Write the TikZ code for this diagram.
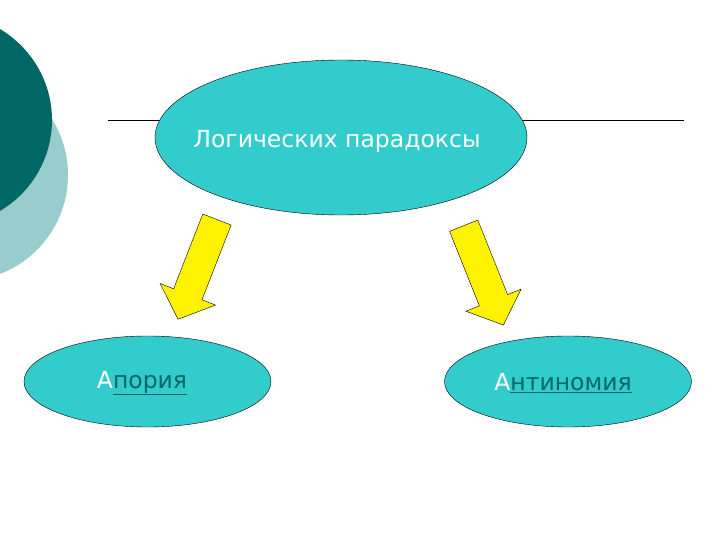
\documentclass[tikz,border=0pt]{standalone}
\usepackage{fontspec}
\setmainfont{DejaVu Sans}
\usetikzlibrary{shapes.geometric, shapes.arrows}
\definecolor{tealfill}{RGB}{51,204,204}
\definecolor{darkteal}{RGB}{0,102,102}
\definecolor{lightteal}{RGB}{153,204,204}
\tikzset{%
    ell/.style={ellipse, draw=black, fill=tealfill, inner sep=0pt},
    yarrow/.style={single arrow, draw=black, fill=yellow, inner sep=15pt,
        minimum height=107pt, single arrow head extend=14.5pt,
        single arrow tip angle=96},
    lbl/.style={font=\fontsize{23.5}{28}\selectfont}
}
\newcommand{\linktext}[2]{\textcolor{white}{#1}\textcolor{darkteal}{\underline{#2}}}

\begin{document}
\begin{tikzpicture}[x=1pt, y=-1pt]
            \useasboundingbox (0,0) rectangle (720,540);

            % background circles on the left
            \begin{scope}
                \clip (0,0) rectangle (720,540);
                \fill[lightteal] (-38,175) ellipse (106pt and 106pt);
                \fill[darkteal] (-55,120) ellipse (107pt and 106pt);
            \end{scope}

            % title line
            \draw[thin] (108,120) -- (684,120);

            % draw main ellipse, label
            \node[ell, minimum width=372pt, minimum height=155pt] (logic) at (341,137.5){};
            \node[lbl, text=white] (logict) at (337,141){Логических парадоксы};

            % yellow arrows
            \node[yarrow, rotate=-111.3] (arrL) at (200,263){};
            \node[yarrow, rotate=-68.2] (arrR) at (481,269){};

            % draw lower ellipses, labels
            \node[ell, minimum width=247pt, minimum height=91pt] (aporia) at (147.5,381.5){};
            \node[ell, minimum width=247pt, minimum height=91pt] (antin) at (568,381.5){};
            \node[lbl] (aporiat) at (142,383){\linktext{А}{пория}};
            \node[lbl] (antint) at (563,383){\linktext{А}{нтиномия}};
        \end{tikzpicture}
\end{document}
